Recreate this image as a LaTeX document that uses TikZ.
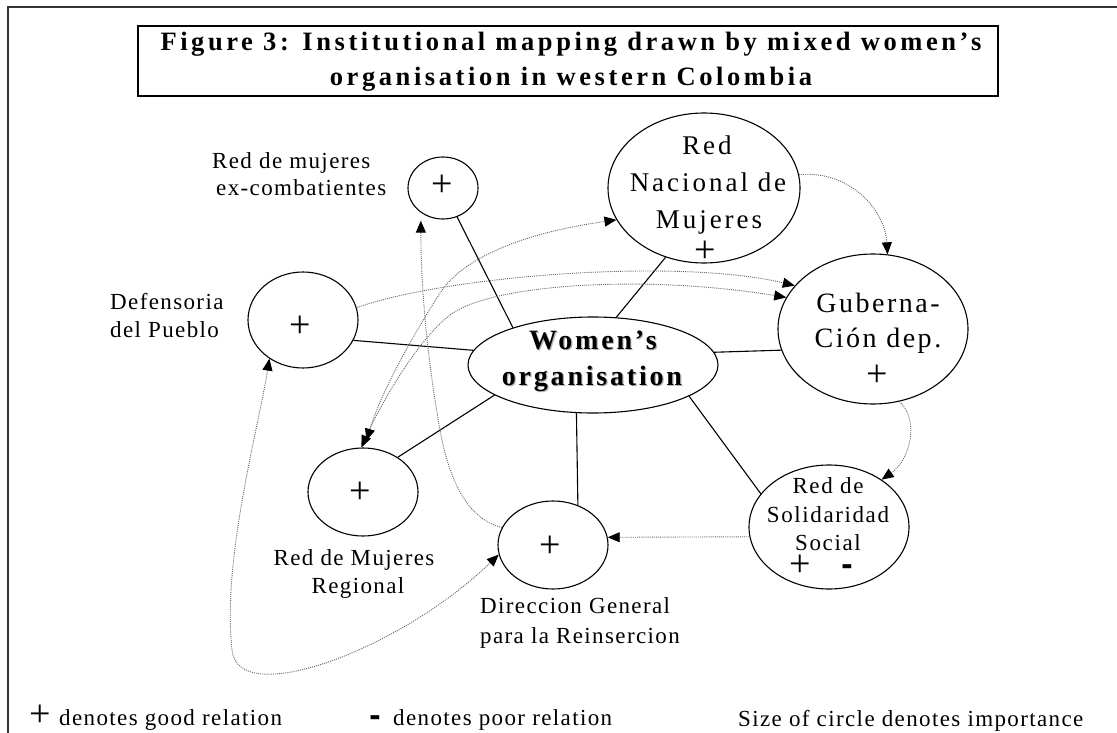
\documentclass[tikz,border=0pt]{standalone}
\usepackage{fontspec}
\setmainfont{Liberation Serif}
\newfontfamily\fA[LetterSpace=6]{Liberation Serif}
\newfontfamily\fB[LetterSpace=9]{Liberation Serif}
\newfontfamily\fC[LetterSpace=11]{Liberation Serif}
\newfontfamily\fD[LetterSpace=13.5]{Liberation Serif}
\newfontfamily\fE[LetterSpace=10]{Liberation Serif}
\newfontfamily\fS[LetterSpace=7]{Liberation Serif}
\newfontfamily\fM{Liberation Sans}
\usetikzlibrary{shapes.geometric,arrows.meta}
\begin{document}
\begin{tikzpicture}[x=1pt,y=-1pt,
  org/.style={draw, ellipse, line width=1.1pt, inner sep=0pt},
  rel/.style={line width=1.1pt},
  dots/.style={line width=0.9pt, draw=black!60, dash pattern=on 1pt off 1.1pt},
  >={Triangle[length=12pt,width=10pt,color=black]},
  lbl/.style={inner sep=0pt, font=\fA\fontsize{23}{27}\selectfont},
  sol/.style={inner sep=0pt, font=\fS\fontsize{23}{27}\selectfont},
  nac/.style={inner sep=0pt, font=\fC\fontsize{27}{30}\selectfont},
  gub/.style={inner sep=0pt, font=\fB\fontsize{28}{32}\selectfont},
  ttl/.style={inner sep=0pt, font=\fD\bfseries\fontsize{26.5}{30}\selectfont},
  wom/.style={inner sep=0pt, font=\fE\bfseries\fontsize{28}{32}\selectfont},
  pls/.style={inner sep=0pt, font=\fontsize{38}{40}\selectfont},
  mns/.style={inner sep=0pt, anchor=base, font=\fM\bfseries\fontsize{34}{36}\selectfont}]
\useasboundingbox (0,0) rectangle (1117,733);
\fill[white] (0,0) rectangle (1117,733);
% outer frame
\draw[line width=1.4pt, black!80] (8,733) -- (8,7) -- (1117,7);
% title
\node[draw, line width=1.2pt, minimum width=860pt, minimum height=70pt, inner sep=0pt] (tbox) at (568,61) {};
\node[ttl, anchor=base] (t1) at (571,51) {Figure 3: Institutional mapping drawn by mixed women’s};
\node[ttl, anchor=base] (t2) at (571,86) {organisation in western Colombia};
% ellipses
\node[org, minimum width=70pt, minimum height=62pt] (Ex) at (443,188) {};
\node[org, minimum width=192pt, minimum height=150pt] (N) at (704,188) {};
\node[org, minimum width=190pt, minimum height=150pt] (G) at (873,329) {};
\node[org, minimum width=250pt, minimum height=96pt] (W) at (593,365) {};
\node[org, minimum width=110pt, minimum height=96pt] (F) at (303,320) {};
\node[org, minimum width=110pt, minimum height=88pt] (R) at (363,492) {};
\node[org, minimum width=110pt, minimum height=88pt] (D) at (553,545) {};
\node[org, minimum width=160pt, minimum height=124pt] (S) at (829,527) {};
% texts inside
\node[pls] (pEx) at (442,186) {+};
\node[nac, anchor=base] (n1) at (707,155) {Red};
\node[nac, anchor=base] (n2) at (708,192) {Nacional de};
\node[nac, anchor=base] (n3) at (709,229) {Mujeres};
\node[pls] (pN) at (705,252) {+};
\node[gub, anchor=base] (g1) at (878,312) {Guberna-};
\node[gub, anchor=base] (g2) at (878,347) {Ción dep.};
\node[pls] (pG) at (877,376) {+};
\node[wom, anchor=base, text=black!30] (w1s) at (594.2,350.2) {Women’s};
\node[wom, anchor=base, text=black!30] (w2s) at (593.2,386.2) {organisation};
\node[wom, anchor=base] (w1) at (593,349) {Women’s};
\node[wom, anchor=base] (w2) at (592,385) {organisation};
\node[pls] (pF) at (300,327) {+};
\node[pls] (pR) at (360,493) {+};
\node[pls] (pD) at (550,547) {+};
\node[sol, anchor=base] (s1) at (828,493) {Red de};
\node[sol, anchor=base] (s2) at (828,522) {Solidaridad};
\node[sol, anchor=base] (s3) at (828,550) {Social};
\node[pls] (pS) at (800,566) {+};
\node[mns] (mS) at (847,575) {-};
% outside labels
\node[lbl, anchor=base west] (ex1) at (212,169) {Red de mujeres};
\node[lbl, anchor=base west] (ex2) at (216,196) {ex-combatientes};
\node[lbl, anchor=base west] (f1) at (110,309) {Defensoria};
\node[lbl, anchor=base west] (f2) at (110,337) {del Pueblo};
\node[lbl, anchor=base] (r1) at (354,565) {Red de Mujeres};
\node[lbl, anchor=base] (r2) at (358,593) {Regional};
\node[lbl, anchor=base west] (d1) at (480,613) {Direccion General};
\node[lbl, anchor=base west] (d2) at (480,643) {para la Reinsercion};
% solid relations
\draw[rel] (W.155) -- (Ex.-64);
\draw[rel] (W.64) -- (N.241);
\draw[rel] (W.6.7) -- (G.193.6);
\draw[rel] (W.-18.4) -- (S.154);
\draw[rel] (W.251.4) -- (D.58.8);
\draw[rel] (W.197.9) -- (R.45);
\draw[rel] (W.173.6) -- (F.-22.7);
% dotted arrows
\draw[dots,->] (N.8) .. controls (850,170) and (885,210) .. (G.79);
\draw[dots,->] (G.-70.6) .. controls (920,420) and (910,460) .. (S.42);
\draw[dots,->] (S.187.2) -- (D.8.4);
\draw[dots,->] (F.13.3) .. controls (450,275) and (680,258) .. (G.151);
\draw[dots,<->] (R.92) .. controls (380,405) and (420,335) .. (453,313) .. controls (498,283) and (650,275) .. (G.160.3);
\draw[dots,<->, shorten <=7pt] (R.88) .. controls (380,395) and (410,340) .. (440,293) .. controls (465,255) and (530,232) .. (N.200.9);
\draw[dots,->, shorten >=8pt] (D.161.9) .. controls (470,520) and (450,485) .. (440,430) .. controls (430,375) and (421,300) .. (Ex.228);
\draw[dots,<->] (F.229.3) .. controls (258,430) and (222,560) .. (232,650) .. controls (238,710) and (400,650) .. (D.190);
% legend
\node[pls] (lp) at (40,716) {+};
\node[lbl, anchor=base west] (l1) at (59,725) {denotes good relation};
\node[mns] (lm) at (375,726) {-};
\node[lbl, anchor=base west] (l2) at (393,725) {denotes poor relation};
\node[lbl, anchor=base west] (l3) at (738,726) {Size of circle denotes importance};
\end{tikzpicture}
\end{document}
